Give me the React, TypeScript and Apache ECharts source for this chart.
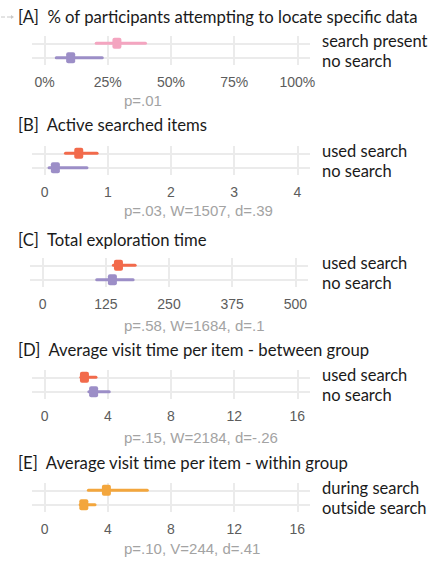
import React, { useEffect, useRef } from "react";
import * as echarts from "echarts";

// ---- data ----
const panelTitles = [
  "[A]  % of participants attempting to locate specific data",
  "[B]  Active searched items",
  "[C]  Total exploration time",
  "[D]  Average visit time per item - between group",
  "[E]  Average visit time per item - within group",
];
// group labels: [top, bottom]
const groupLabels = [
  ["search present", "no search"],
  ["used search", "no search"],
  ["used search", "no search"],
  ["used search", "no search"],
  ["during search", "outside search"],
];
// [center, low, high] for top group, then bottom group
const topValues = [
  [28.6, 20.4, 39.9],
  [0.54, 0.33, 0.83],
  [150, 140, 183],
  [2.52, 2.3, 3.25],
  [3.91, 2.77, 6.5],
];
const bottomValues = [
  [10.3, 4.6, 22.8],
  [0.17, 0.07, 0.67],
  [138, 107, 179],
  [3.1, 2.8, 4.09],
  [2.48, 2.25, 3.19],
];
const tickValues = [
  [0, 25, 50, 75, 100],
  [0, 1, 2, 3, 4],
  [0, 125, 250, 375, 500],
  [0, 4, 8, 12, 16],
  [0, 4, 8, 12, 16],
];
const tickSuffix = ["%", "", "", "", ""];
const statsLabels = [
  "p=.01",
  "p=.03, W=1507, d=.39",
  "p=.58, W=1684, d=.1",
  "p=.15, W=2184, d=-.26",
  "p=.10, V=244, d=.41",
];

// ---- styles / layout ----
const topColors = ["#F4A5C0", "#F26A4B", "#F26A4B", "#F26A4B", "#F3A63D"];
const bottomColors = ["#9C8EC7", "#9C8EC7", "#9C8EC7", "#9C8EC7", "#F3A63D"];
const gridTops = [36, 146, 258, 370, 483];
const gridLefts = [32, 32, 30, 32, 32];
const gridWidth = 278;
const gridHeight = 29;
const titleYs = [17, 125, 240, 350, 463];
const statsYs = [100, 210, 325, 437, 548];
const TITLE_FONT = "Lato, 'Noto Sans', sans-serif";
const TICK_FONT = "'Liberation Sans', Arial, sans-serif";

export default function App() {
  const ref = useRef<HTMLDivElement>(null);
  useEffect(() => {
    document.body.style.margin = "0";
    if (!ref.current) return;
    const chart = echarts.init(ref.current, null, { renderer: "svg" });

    const grids: any[] = [];
    const xAxes: any[] = [];
    const yAxes: any[] = [];
    const series: any[] = [];
    const graphics: any[] = [];

    for (let i = 0; i < 5; i++) {
      const ticks = tickValues[i];
      const span = ticks[ticks.length - 1] - ticks[0];
      const pad = span * 0.05;
      grids.push({
        left: gridLefts[i],
        top: gridTops[i],
        width: gridWidth,
        height: gridHeight,
        containLabel: false,
      });
      xAxes.push({
        gridIndex: i,
        type: "value",
        min: ticks[0] - pad,
        max: ticks[ticks.length - 1] + pad,
        axisLine: { show: false },
        axisTick: { show: false, customValues: ticks },
        splitLine: { show: false },
        axisLabel: {
          customValues: ticks,
          formatter: (v: number) => `${v}${tickSuffix[i]}`,
          fontFamily: TICK_FONT,
          fontSize: 14,
          color: "#5C5C5C",
          margin: 10,
        },
      });
      yAxes.push({
        gridIndex: i,
        type: "category",
        data: [groupLabels[i][1], groupLabels[i][0]],
        axisLine: { show: false },
        axisTick: { show: false },
        axisLabel: { show: false },
        splitLine: { show: false },
      });
      // gridlines
      series.push({
        type: "line",
        xAxisIndex: i,
        yAxisIndex: i,
        data: [],
        z: 1,
        silent: true,
        markLine: {
          silent: true,
          symbol: ["none", "none"],
          label: { show: false },
          lineStyle: { color: "#EBEBEB", width: 2, type: "solid" },
          emphasis: { disabled: true },
          data: [
            ...ticks.map((t) => ({ xAxis: t })),
            { yAxis: groupLabels[i][1] },
            { yAxis: groupLabels[i][0] },
          ],
        },
      });
      series.push({
        type: "custom",
        xAxisIndex: i,
        yAxisIndex: i,
        z: 10,
        encode: { x: [0, 1, 2], y: 3 },
        data: [
          { value: [...bottomValues[i], 0], itemStyle: { color: bottomColors[i] } },
          { value: [...topValues[i], 1], itemStyle: { color: topColors[i] } },
        ],
        renderItem: (params: any, api: any) => {
          const cat = api.value(3);
          const c = api.coord([api.value(0), cat]);
          const lo = api.coord([api.value(1), cat]);
          const hi = api.coord([api.value(2), cat]);
          const color = api.visual("color");
          return {
            type: "group",
            children: [
              {
                type: "line",
                shape: { x1: lo[0], y1: c[1], x2: hi[0], y2: c[1] },
                style: { stroke: color, lineWidth: 3, lineCap: "round" },
              },
              {
                type: "rect",
                shape: { x: c[0] - 4.5, y: c[1] - 5.5, width: 9, height: 11, r: 2 },
                style: { fill: color },
              },
            ],
          };
        },
      });

      graphics.push({
        type: "text",
        x: 18,
        y: titleYs[i],
        style: {
          text: panelTitles[i],
          fontFamily: TITLE_FONT,
          fontSize: 16.7,
          fill: "#1A1A1A",
          verticalAlign: "middle",
        },
      });
      graphics.push({
        type: "text",
        x: 322,
        y: gridTops[i] + 5,
        style: {
          text: groupLabels[i][0],
          fontFamily: TITLE_FONT,
          fontSize: 16.5,
          fill: "#1A1A1A",
          verticalAlign: "middle",
        },
      });
      graphics.push({
        type: "text",
        x: 322,
        y: gridTops[i] + 25,
        style: {
          text: groupLabels[i][1],
          fontFamily: TITLE_FONT,
          fontSize: 16.5,
          fill: "#1A1A1A",
          verticalAlign: "middle",
        },
      });
      graphics.push({
        type: "text",
        x: 124,
        y: statsYs[i],
        style: {
          text: statsLabels[i],
          fontFamily: TICK_FONT,
          fontSize: 15,
          fill: "#A3A3A3",
          verticalAlign: "middle",
        },
      });
    }

    // small gray artifact at top-left
    graphics.push({
      type: "line",
      shape: { x1: 1, y1: 17, x2: 5, y2: 17 },
      style: { stroke: "#C8C8C8", lineWidth: 1 },
    });
    graphics.push({
      type: "line",
      shape: { x1: 7, y1: 17, x2: 11, y2: 17 },
      style: { stroke: "#C8C8C8", lineWidth: 1 },
    });
    graphics.push({
      type: "polygon",
      shape: { points: [[11, 15], [11, 19], [14, 17]] },
      style: { fill: "#C8C8C8" },
    });

    chart.setOption({
      animation: false,
      backgroundColor: "#FFFFFF",
      grid: grids,
      xAxis: xAxes,
      yAxis: yAxes,
      series,
      graphic: graphics,
    });
    return () => chart.dispose();
  }, []);
  return <div ref={ref} style={{ width: 443, height: 561 }} />;
}
